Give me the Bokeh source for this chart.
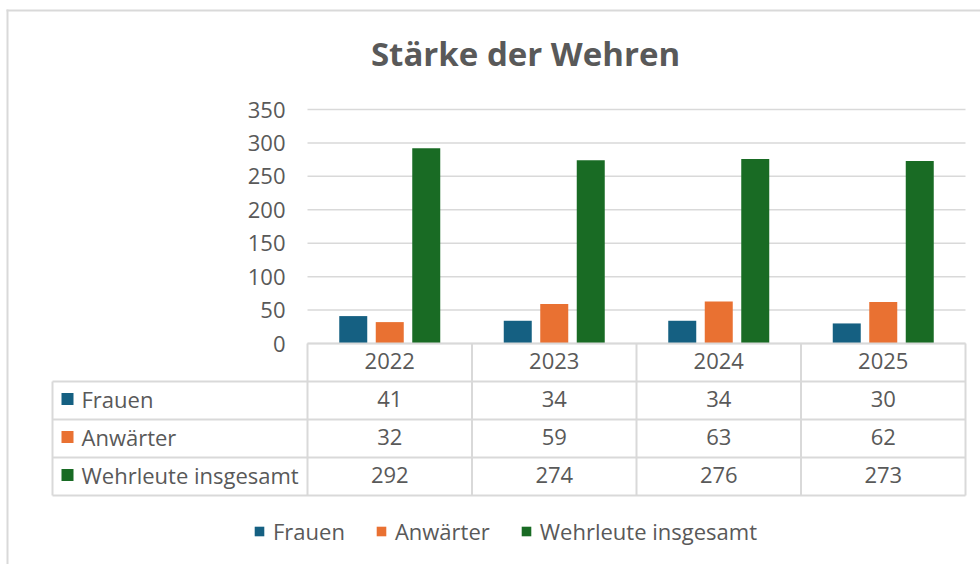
from bokeh.plotting import figure
from bokeh.models import Range1d, Legend, LegendItem
from bokeh.core.properties import value
from bokeh.embed import file_html
from bokeh.resources import INLINE

# ---------------- data ----------------
years = ["2022", "2023", "2024", "2025"]
series_names = ["Frauen", "Anwärter", "Wehrleute insgesamt"]
frauen = [41, 34, 34, 30]
anwaerter = [32, 59, 63, 62]
wehrleute = [292, 274, 276, 273]
y_ticks = [0, 50, 100, 150, 200, 250, 300, 350]
series_colors = ["#156082", "#E97132", "#196B24"]
title_text = "Stärke der Wehren"

series_values = [frauen, anwaerter, wehrleute]

# ---------------- layout constants (page pixels) ----------------
W, H = 980, 564
OX, OY = 0, 0                 # figure origin on the page
PLOT_L, PLOT_R = 307, 965     # category columns / plot area
TABLE_L = 52                  # left edge of the data table
Y_TOP_PX, Y_ZERO_PX = 109, 343
ROW_H = 38
BAR_W_PX, BAR_STEP_PX = 28, 36.5
TEXT_SHIFT = 1.5 / ROW_H      # small upward nudge of table texts
FONT = "Open Sans"
TXT = "#595959"
LINE = "#d9d9d9"

col_w = (PLOT_R - PLOT_L) / len(years)
unit = (Y_ZERO_PX - Y_TOP_PX) / max(y_ticks)


def col(px):
    return (px - PLOT_L) / col_w


def val(py):
    return (Y_ZERO_PX - py) / unit


def row(py):
    return (Y_ZERO_PX - py) / ROW_H


p = figure(width=W, height=H,
           x_range=Range1d(col(OX), col(OX + W)),
           y_range=Range1d(val(OY + H), val(OY)),
           x_axis_location=None, y_axis_location=None,
           toolbar_location=None, output_backend="svg",
           min_border=0, outline_line_color=None,
           background_fill_color="white", border_fill_color="white")
p.grid.visible = False
p.extra_x_ranges = {"px": Range1d(OX, OX + W)}
p.extra_y_ranges = {"px": Range1d(OY + H, OY), "row": Range1d(row(OY + H), row(OY))}

# chart border (top / left)
p.segment(x0=[6, 7], y0=[10, 9], x1=[OX + W, 7], y1=[10, OY + H],
          x_range_name="px", y_range_name="px", line_color=LINE, line_width=2)

# title
p.text(x=525, y=53, text=[title_text], x_range_name="px", y_range_name="px",
       text_font=value(FONT), text_font_style="bold", text_font_size="33px",
       text_color=TXT, text_align="center", text_baseline="middle")

# gridlines
p.segment(x0=0, x1=len(years), y0=y_ticks, y1=y_ticks, line_color=LINE, line_width=1.5)

# y tick labels
p.text(x=285, y=y_ticks, text=[str(t) for t in y_ticks], x_range_name="px",
       text_font=value(FONT), text_font_size="22px", text_color=TXT,
       text_align="right", text_baseline="middle")

# bars
bar_w = BAR_W_PX / col_w
step = BAR_STEP_PX / col_w
renderers = []
n = len(series_names)
for k, (vals, c) in enumerate(zip(series_values, series_colors)):
    xs = [i + 0.5 + (k - (n - 1) / 2) * step for i in range(len(years))]
    r = p.vbar(x=xs, top=vals, bottom=0, width=bar_w, fill_color=c, line_color=None)
    renderers.append(r)

# data table lines
nrows = len(series_names)
tl = col(TABLE_L)
hx0 = [0] + [tl] * nrows + [tl]
hx1 = [len(years)] * (nrows + 2)
hy = [0] + [-(r + 1) for r in range(nrows + 1)]
p.segment(x0=hx0, x1=hx1, y0=hy, y1=hy, y_range_name="row", line_color=LINE, line_width=2)
vx = [tl] + list(range(len(years) + 1))
vy0 = [-1] + [0] * (len(years) + 1)
vy1 = [-(nrows + 1)] * (len(years) + 2)
p.segment(x0=vx, x1=vx, y0=vy0, y1=vy1, y_range_name="row", line_color=LINE, line_width=2)

# header (years)
p.text(x=[i + 0.5 for i in range(len(years))], y=-0.5 + TEXT_SHIFT, text=years, y_range_name="row",
       text_font=value(FONT), text_font_size="22px", text_color=TXT,
       text_align="center", text_baseline="middle")

# values
for r, vals in enumerate(series_values):
    p.text(x=[i + 0.5 for i in range(len(years))], y=-(r + 1.5) + TEXT_SHIFT,
           text=[str(v) for v in vals],
           y_range_name="row", text_font=value(FONT), text_font_size="22px", text_color=TXT,
           text_align="center", text_baseline="middle")

# row labels with colour keys
row_y = [-(r + 1.5) + TEXT_SHIFT for r in range(nrows)]
p.scatter(x=67, y=row_y, marker="square", size=12, fill_color=series_colors, line_color=None,
          x_range_name="px", y_range_name="row")
p.text(x=81, y=row_y, text=series_names, x_range_name="px", y_range_name="row",
       text_font=value(FONT), text_font_size="22px", text_color=TXT,
       text_align="left", text_baseline="middle")

# legend
legend = Legend(items=[LegendItem(label=nm, renderers=[rr]) for nm, rr in zip(series_names, renderers)],
                location=(253 - OX, 564 - 546), orientation="horizontal",
                glyph_width=12, glyph_height=12, label_standoff=8, spacing=30,
                padding=0, margin=0, border_line_color=None, background_fill_alpha=0,
                label_text_font=FONT, label_text_font_size="22px", label_text_color=TXT)
p.add_layout(legend)

open("out.html", "w").write(file_html(p, INLINE))
